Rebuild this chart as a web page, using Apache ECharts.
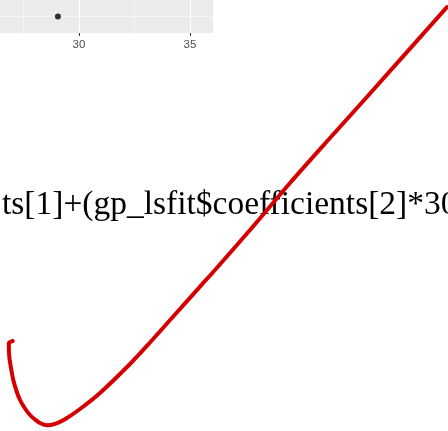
<!DOCTYPE html>
<html>
<head>
<meta charset="utf-8">
<script src="https://cdn.jsdelivr.net/npm/echarts@6/dist/echarts.min.js"></script>
<style>
  html, body { margin: 0; padding: 0; background: #fff; }
  #chart { width: 448px; height: 431px; }
</style>
</head>
<body>
<div id="chart"></div>
<script>
// top-left panel (cropped ggplot panel)
const panelXTicks = [30, 35];
const panelXMinor = [27.5, 32.5];
const panelYLines = [1];
const pointX = [29.05];
const pointY = [1];

// red curve
const curveX = [12.7, 8.8, 9.3, 11, 13.3, 16.5, 20, 25, 30, 35, 40, 47, 55, 65, 80, 100, 130, 150, 175, 200, 215, 250, 290, 330, 366, 447];
const curveY = [341, 343.5, 356.7, 368, 380, 391, 400, 408.5, 415, 419.5, 423, 425.3, 423.8, 419.2, 409, 393, 364, 342.5, 314.5, 286.6, 270, 230, 183, 138, 98, 7];

const bigText = 'ts[1]+(gp_lsfit$coefficients[2]*30';

const chart = echarts.init(document.getElementById('chart'));

const option = {
  animation: false,
  backgroundColor: '#fff',
  graphic: [
    {
      type: 'text',
      left: 2,
      top: 188,
      z: 0,
      style: {
        text: bigText,
        font: '33.5px "Liberation Serif"',
        fill: '#000'
      }
    }
  ],
  grid: [
    { left: 0, top: -3, width: 213, height: 36, show: true, backgroundColor: '#EBEBEB', borderWidth: 0 },
    { left: 0, top: 0, right: 0, bottom: 0 }
  ],
  xAxis: [
    {
      gridIndex: 0, type: 'value', min: 26.441, max: 36.036,
      axisLine: { show: false },
      axisTick: { show: true, customValues: panelXTicks, length: 3, lineStyle: { color: '#333', width: 1 } },
      axisLabel: { customValues: panelXTicks, color: '#4D4D4D', fontSize: 11.5, fontFamily: 'Liberation Sans', margin: 6 },
      splitLine: { show: true, lineStyle: { color: '#fff', width: 1.1 } }
    },
    {
      gridIndex: 0, type: 'value', min: 26.441, max: 36.036,
      axisLine: { show: false },
      axisTick: { show: false, customValues: panelXMinor },
      axisLabel: { show: false, customValues: panelXMinor },
      splitLine: { show: true, lineStyle: { color: '#fff', width: 0.5 } }
    },
    { gridIndex: 1, type: 'value', min: 0, max: 448, show: false }
  ],
  yAxis: [
    {
      gridIndex: 0, type: 'value', min: 0, max: 2,
      axisLine: { show: false },
      axisTick: { show: false, customValues: panelYLines },
      axisLabel: { show: false, customValues: panelYLines },
      splitLine: { show: true, lineStyle: { color: '#fff', width: 0.5 } }
    },
    { gridIndex: 1, type: 'value', min: 0, max: 431, inverse: true, show: false }
  ],
  series: [
    {
      type: 'scatter',
      xAxisIndex: 0, yAxisIndex: 0,
      data: pointX.map((x, i) => [x, pointY[i]]),
      symbolSize: 6,
      itemStyle: { color: '#000' },
      silent: true
    },
    {
      type: 'line',
      xAxisIndex: 2, yAxisIndex: 1,
      data: curveX.map((x, i) => [x, curveY[i]]),
      smooth: 0.3,
      showSymbol: false,
      z: 5,
      lineStyle: { color: '#D40000', width: 4, cap: 'round' }
    }
  ]
};

chart.setOption(option);
</script>
</body>
</html>
